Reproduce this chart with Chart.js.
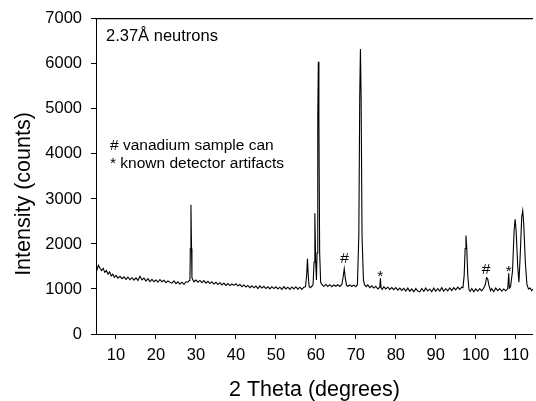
<!DOCTYPE html>
<html>
<head>
<meta charset="utf-8">
<script src="https://cdn.jsdelivr.net/npm/chart.js@4/dist/chart.umd.min.js"></script>
<style>
  body { margin: 0; background: #fff; }
  canvas { display: block; }
</style>
</head>
<body>
<canvas id="diffChart" width="536" height="401"></canvas>
<script>
// 2 theta (degrees) and counts
var twoTheta = [
  5.0, 5.3, 5.6, 6.0, 6.4, 6.8, 7.2, 7.6, 8.0, 8.4, 8.8, 9.2, 9.6, 10.0,
  10.5, 11.0, 11.5, 12.0, 12.5, 13.0, 13.5, 14.0, 14.5, 15.0, 15.5, 16.0, 16.5, 17.0,
  17.5, 18.0, 18.5, 19.0, 19.5, 20.0, 20.5, 21.0, 21.5, 22.0, 22.5, 23.0, 23.5, 24.0,
  24.5, 25.0, 25.5, 26.0, 26.5, 27.0, 27.5, 28.0, 28.3, 28.5, 28.6, 28.75, 28.9, 29.0,
  29.2, 29.5, 30.0, 30.5, 31.0, 31.5, 32.0, 32.5, 33.0, 33.5, 34.0, 34.5, 35.0, 35.5,
  36.0, 36.5, 37.0, 37.5, 38.0, 38.5, 39.0, 39.5, 40.0, 40.5, 41.0, 41.5, 42.0, 42.5,
  43.0, 43.5, 44.0, 44.5, 45.0, 45.5, 46.0, 46.5, 47.0, 47.5, 48.0, 48.5, 49.0, 49.5,
  50.0, 50.5, 51.0, 51.5, 52.0, 52.5, 53.0, 53.5, 54.0, 54.5, 55.0, 55.5, 56.0, 56.5,
  57.0, 57.4, 57.7, 57.9, 58.1, 58.3, 58.6, 59.0, 59.3, 59.55, 59.75, 59.95, 60.15, 60.3,
  60.48, 60.62, 60.76, 60.95, 61.2, 61.5, 62.0, 62.5, 63.0, 63.5, 64.0, 64.5, 65.0, 65.5,
  66.0, 66.5, 66.8, 67.1, 67.4, 67.7, 68.0, 68.5, 69.0, 69.5, 70.0, 70.4, 70.75, 70.98,
  71.15, 71.32, 71.55, 71.9, 72.2, 72.6, 73.0, 73.5, 74.0, 74.5, 75.0, 75.5, 76.0, 76.15,
  76.3, 76.6, 77.0, 77.5, 78.0, 78.5, 79.0, 79.5, 80.0, 80.5, 81.0, 81.5, 82.0, 82.5,
  83.0, 83.5, 84.0, 84.5, 85.0, 85.5, 86.0, 86.5, 87.0, 87.5, 88.0, 88.5, 89.0, 89.5,
  90.0, 90.5, 91.0, 91.5, 92.0, 92.5, 93.0, 93.5, 94.0, 94.5, 95.0, 95.5, 96.0, 96.5,
  96.8, 97.1, 97.35, 97.55, 97.75, 98.0, 98.3, 98.6, 99.0, 99.5, 100.0, 100.5, 101.0, 101.5,
  102.0, 102.4, 102.7, 103.0, 103.3, 103.7, 104.0, 104.5, 105.0, 105.5, 106.0, 106.5, 107.0, 107.5,
  108.0, 108.25, 108.4, 108.7, 109.2, 109.6, 109.85, 110.1, 110.5, 110.8, 111.1, 111.5, 111.75, 112.0,
  112.4, 112.8, 113.2, 113.6, 114.0, 114.3
];
var counts = [
  1510, 1440, 1530, 1460, 1410, 1460, 1370, 1410, 1330, 1380, 1290, 1330, 1260, 1300,
  1240, 1280, 1230, 1270, 1215, 1265, 1205, 1250, 1195, 1245, 1190, 1285, 1200, 1240,
  1175, 1230, 1165, 1215, 1160, 1200, 1150, 1210, 1160, 1195, 1140, 1180, 1150, 1130,
  1180, 1120, 1160, 1105, 1150, 1100, 1160, 1150, 1190, 1250, 1900, 2870, 1900, 1250,
  1210, 1160, 1200, 1150, 1190, 1140, 1185, 1130, 1170, 1120, 1160, 1110, 1150, 1100,
  1140, 1090, 1130, 1080, 1120, 1075, 1110, 1080, 1115, 1070, 1100, 1050, 1090, 1045,
  1080, 1030, 1070, 1025, 1065, 1010, 1070, 1020, 1060, 1010, 1050, 1000, 1050, 1010,
  1050, 1000, 1040, 990, 1050, 1000, 1040, 990, 1045, 1000, 1050, 995, 1040, 990,
  1040, 1050, 1300, 1670, 1300, 1060, 1030, 1060, 1100, 1600, 2680, 1600, 1200, 1800,
  4800, 6050, 4800, 1800, 1150, 1100, 1060, 1100, 1055, 1095, 1050, 1090, 1060, 1095,
  1055, 1100, 1250, 1450, 1220, 1080, 1060, 1090, 1055, 1085, 1050, 1100, 2200, 5300,
  6330, 5300, 2200, 1200, 1090, 1050, 1090, 1030, 1070, 1020, 1060, 1000, 1040, 1240,
  1030, 990, 1050, 1000, 1040, 990, 1030, 985, 1030, 975, 1020, 970, 1015, 955,
  1020, 950, 1000, 940, 1010, 955, 935, 1010, 950, 1020, 955, 1000, 940, 1020,
  950, 1010, 955, 1030, 950, 1010, 960, 1025, 965, 1030, 980, 1040, 990, 1040,
  1030, 1300, 1900, 2190, 1900, 1300, 990, 945, 1010, 940, 1000, 950, 1010, 960,
  1020, 1100, 1250, 1220, 1080, 960, 1010, 940, 1020, 965, 1010, 950, 1000, 960,
  1010, 1350, 1020, 1050, 1400, 2300, 2550, 2300, 1500, 1150, 1700, 2600, 2740, 2450,
  1600, 1100, 1000, 1020, 960, 1000
];
var xTicks = [10, 20, 30, 40, 50, 60, 70, 80, 90, 100, 110];
var yTicks = [0, 1000, 2000, 3000, 4000, 5000, 6000, 7000];

// peak markers (# vanadium can, * detector artifacts)
var markX = [67.2, 76.1, 102.6, 108.25];
var markY = [1574, 1183, 1340, 1280];
var markText = ['#', '*', '#', '*'];

var notes = ['# vanadium sample can', '* known detector artifacts'];

var fontFamily = '"Liberation Sans", Arial, sans-serif';

var points = twoTheta.map(function (t, i) { return { x: t, y: counts[i] }; });

var textPlugin = {
  id: 'textPlugin',
  afterDraw: function (chart) {
    var ctx = chart.ctx;
    var xs = chart.scales.x;
    var ys = chart.scales.y;
    ctx.save();
    ctx.fillStyle = '#000';
    ctx.textBaseline = 'alphabetic';

    ctx.textAlign = 'left';
    ctx.font = '16.5px ' + fontFamily;
    ctx.fillText('2.37Å neutrons', 106, 41);

    ctx.font = '15.5px ' + fontFamily;
    ctx.fillText(notes[0], 110, 150);
    ctx.fillText(notes[1], 110, 168);

    ctx.textAlign = 'center';
    for (var i = 0; i < markX.length; i++) {
      ctx.fillText(markText[i], xs.getPixelForValue(markX[i]), ys.getPixelForValue(markY[i]));
    }

    // y axis title, sits a bit below the middle of the axis
    ctx.translate(30, 194);
    ctx.rotate(-Math.PI / 2);
    ctx.font = '21.5px ' + fontFamily;
    ctx.fillText('Intensity (counts)', 0, 0);
    ctx.restore();
  }
};

var ctx = document.getElementById('diffChart').getContext('2d');

var chart = new Chart(ctx, {
  type: 'scatter',
  data: {
    datasets: [{
      data: points,
      showLine: true,
      borderColor: '#000',
      borderWidth: 1.1,
      pointRadius: 0,
      tension: 0
    }]
  },
  options: {
    responsive: false,
    animation: false,
    layout: { padding: 0 },
    plugins: { legend: { display: false }, tooltip: { enabled: false } },
    scales: {
      x: {
        type: 'linear',
        position: 'bottom',
        min: 5,
        max: 114.3,
        afterBuildTicks: function (scale) {
          scale.ticks = xTicks.map(function (v) { return { value: v }; });
        },
        afterFit: function (scale) { scale.height = 67; },
        border: { color: '#000', width: 1 },
        grid: { drawOnChartArea: false, color: '#000', tickLength: 5 },
        ticks: {
          color: '#000',
          font: { family: fontFamily, size: 16.5 },
          padding: 7,
          maxRotation: 0,
          callback: function (v) { return String(v); }
        },
        title: {
          display: true,
          text: '2 Theta (degrees)',
          color: '#000',
          font: { family: fontFamily, size: 21.5, lineHeight: 1 },
          padding: 0
        }
      },
      xTop: {
        type: 'linear',
        position: 'top',
        min: 5,
        max: 114.3,
        afterFit: function (scale) { scale.height = 17; },
        border: { color: '#000', width: 1.3 },
        grid: { display: false },
        ticks: { display: false }
      },
      y: {
        min: 0,
        max: 7000,
        afterBuildTicks: function (scale) {
          scale.ticks = yTicks.map(function (v) { return { value: v }; });
        },
        afterFit: function (scale) { scale.width = 96; },
        border: { color: '#000', width: 1 },
        grid: { drawOnChartArea: false, color: '#000', tickLength: 5 },
        ticks: {
          color: '#000',
          font: { family: fontFamily, size: 16.5 },
          padding: 9,
          callback: function (v) { return String(v); }
        }
      }
    }
  },
  plugins: [textPlugin]
});
</script>
</body>
</html>
